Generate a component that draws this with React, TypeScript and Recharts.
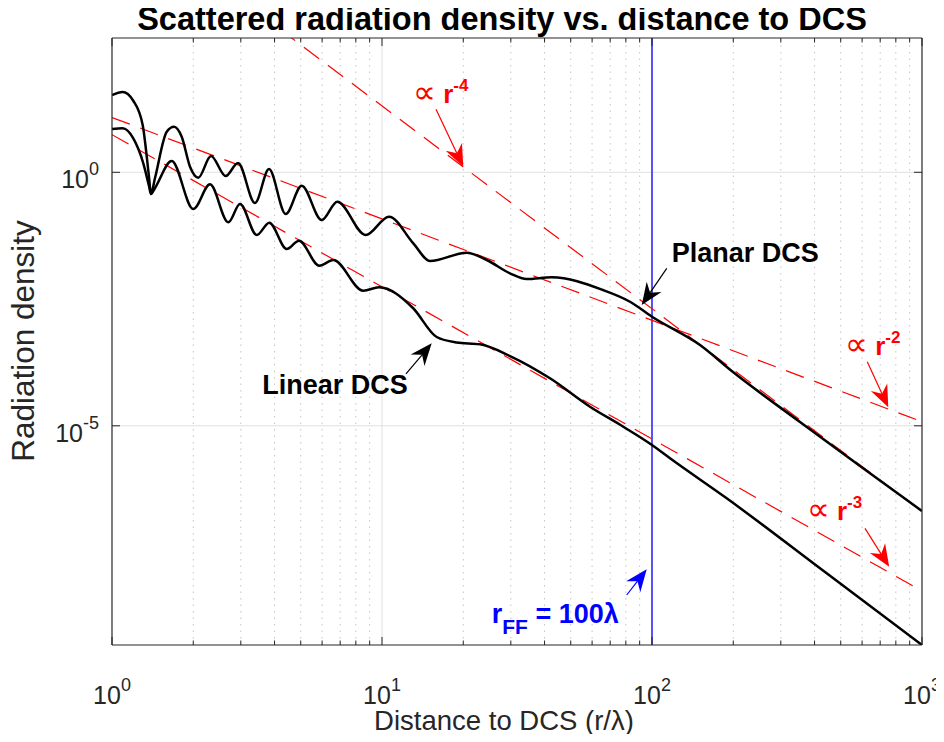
import React from "react";
import { LineChart, Line, XAxis, YAxis, ReferenceLine, ReferenceDot } from "recharts";

const FONT = '"Liberation Sans", Arial, Helvetica, sans-serif';
const AXIS = "#262626";
const RED = "#ff0000";
const BLUE = "#0000ff";

// Planar DCS (upper black curve)
const planarR = [1, 1.095, 1.199, 1.299, 1.371, 1.394, 1.443, 1.595, 1.697, 1.812, 1.945, 2.087, 2.326, 2.637, 2.929, 3.385, 3.815, 4.399, 5.042, 5.979, 6.831, 8.7, 10.61, 13.06, 15.06, 20.59, 24.42, 29.79, 34.36, 42.51, 65.84, 82.9, 100, 150.6, 199.5, 353.3, 589.3, 1000];
const planarV = [33.5, 38.4, 25.8, 8.57, 0.808, 0.373, 0.772, 6.32, 7.93, 5.04, 1.29, 0.782, 2.1, 0.845, 1.525, 0.248, 1.162, 0.1505, 0.544, 0.1146, 0.263, 0.058, 0.133, 0.0398, 0.0178, 0.02596, 0.01863, 0.01018, 0.00786, 0.00849, 0.00477, 0.0028, 0.001419, 3.924e-4, 1.151e-4, 1.189e-5, 1.611e-6, 2.087e-7];

// Linear DCS (lower black curve)
const linearR = [1, 1.095, 1.199, 1.306, 1.371, 1.394, 1.443, 1.664, 2.0, 2.307, 2.696, 2.979, 3.436, 3.824, 4.436, 4.927, 5.858, 6.602, 8.524, 9.748, 13.02, 15.94, 18.91, 23.07, 29.79, 41.9, 58.93, 78.3, 100, 116.6, 189.1, 443.6, 1000];
const linearV = [7.14, 7.38, 4.68, 1.505, 0.537, 0.373, 0.49, 1.671, 0.1888, 0.58, 0.1032, 0.237, 0.058, 0.1014, 0.0307, 0.04476, 0.01438, 0.01863, 0.00462, 0.00539, 0.002106, 5.64e-4, 4.395e-4, 4.05e-4, 2.38e-4, 8.65e-5, 2.38e-5, 9.6e-6, 4.18e-6, 2.286e-6, 3.715e-7, 1.232e-8, 4.75e-10];

// power-law guide lines
const fitR = [1, 1000];
const fitR2 = [12.05, 1.205e-5];
const fitR3 = [5.52, 5.52e-9];
const fitR4 = [2.04e5, 2.04e-7];

const majorX = [1, 10, 100, 1000];
const minorX = [2, 3, 4, 5, 6, 7, 8, 9, 20, 30, 40, 50, 60, 70, 80, 90, 200, 300, 400, 500, 600, 700, 800, 900];
const yTicks = [1e-5, 1];
const xDomain = [1, 1000];
const yDomain = [4.75e-10, 445.6];

// annotation arrows: [tail r, tail v, tip r, tip v]
const arrowsRed = [
  [15.85, 17.48, 20.0, 1.29],
  [627, 1.837e-4, 750, 2.32e-5],
  [615, 9.5e-8, 756, 1.66e-8],
];
const arrowsBlack = [
  [113.4, 0.01278, 91.6, 2.41e-3],
  [12.27, 1.052e-4, 15.28, 4.24e-4],
];
const arrowsBlue = [[80.6, 4.6e-9, 95.6, 1.477e-8]];

// text anchors [r, v, exponent]
const powerLabels = [
  [13.02, 22.96, -4],
  [518.6, 2.49e-4, -2],
  [374.1, 1.387e-7, -3],
];
const planarLabel = [118.3, 0.01725];
const linearLabel = [3.603, 4.24e-5];
const rffLabel = [25.49, 1.307e-9];

const zip = (r: number[], v: number[]) => r.map((x, i) => ({ r: x, v: v[i] }));
const planarData = zip(planarR, planarV);
const linearData = zip(linearR, linearV);
const fit2Data = zip(fitR, fitR2);
const fit3Data = zip(fitR, fitR3);
const fit4Data = zip(fitR, fitR4);

const exp10 = (v: number) => Math.round(Math.log10(v));

const XTickBottom = (p: any) => {
  const { x, y, payload } = p;
  const major = majorX.includes(payload.value);
  return (
    <g>
      <line x1={x} x2={x} y1={y} y2={y - (major ? 8 : 4.5)} stroke={AXIS} strokeWidth={1} />
      {major && (
        <text x={x} y={y + 59} textAnchor="middle" fontSize={25} fill={AXIS} fontFamily={FONT}>
          10<tspan dy={-13} fontSize={18}>{exp10(payload.value)}</tspan>
        </text>
      )}
    </g>
  );
};

const XTickTop = (p: any) => {
  const { x, y, payload } = p;
  const major = majorX.includes(payload.value);
  return <line x1={x} x2={x} y1={y} y2={y + (major ? 8 : 4.5)} stroke={AXIS} strokeWidth={1} />;
};

const YTickLeft = (p: any) => {
  const { x, y, payload } = p;
  return (
    <g>
      <line x1={x} x2={x + 8} y1={y} y2={y} stroke={AXIS} strokeWidth={1} />
      <text x={x - 13} y={y + 16} textAnchor="end" fontSize={25} fill={AXIS} fontFamily={FONT}>
        10<tspan dy={-13} fontSize={18}>{exp10(payload.value)}</tspan>
      </text>
    </g>
  );
};

const YTickRight = (p: any) => {
  const { x, y } = p;
  return <line x1={x} x2={x - 8} y1={y} y2={y} stroke={AXIS} strokeWidth={1} />;
};

const arrowShape = (color: string) => (p: any) => {
  const { x1, y1, x2, y2 } = p;
  const dx = x2 - x1;
  const dy = y2 - y1;
  const len = Math.hypot(dx, dy) || 1;
  const ux = dx / len;
  const uy = dy / len;
  const nx = -uy;
  const ny = ux;
  const L = 22;
  const W = 9;
  const N = 15;
  const bx = x2 - ux * L;
  const by = y2 - uy * L;
  const mx = x2 - ux * N;
  const my = y2 - uy * N;
  const pts = `${x2},${y2} ${bx + nx * W},${by + ny * W} ${mx},${my} ${bx - nx * W},${by - ny * W}`;
  return (
    <g>
      <line x1={x1} y1={y1} x2={mx} y2={my} stroke={color} strokeWidth={1.2} />
      <polygon points={pts} fill={color} />
    </g>
  );
};

const powerShape = (n: number) => (p: any) => (
  <text x={p.cx} y={p.cy} fill={RED} fontSize={26} fontFamily={FONT}>
    <tspan fontSize={32}>∝</tspan>
    <tspan fontWeight="bold"> r</tspan>
    <tspan fontWeight="bold" fontSize={17} dy={-12}>{n}</tspan>
  </text>
);

const boldText = (t: string) => (p: any) => (
  <text x={p.cx} y={p.cy} fill="#000" fontSize={27} fontWeight="bold" fontFamily={FONT}>
    {t}
  </text>
);

const rffShape = (p: any) => (
  <text x={p.cx} y={p.cy} fill={BLUE} fontSize={27} fontWeight="bold" fontFamily={FONT}>
    <tspan>r</tspan>
    <tspan fontSize={21} dy={11}>FF</tspan>
    <tspan dy={-11}> = 100λ</tspan>
  </text>
);

export default function App() {
  const ax = { xAxisId: "b", yAxisId: "l" };
  return (
    <div style={{ position: "relative", width: 944, height: 742, margin: -8, fontFamily: FONT }}>
      <LineChart width={944} height={742} margin={{ top: 0, right: 0, bottom: 0, left: 0 }}>
        <XAxis xAxisId="b" orientation="bottom" type="number" dataKey="r" scale="log" domain={xDomain}
          allowDataOverflow ticks={[...majorX, ...minorX]} interval={0} tickLine={false} tickSize={0}
          tickMargin={0} tick={(p: any) => <XTickBottom {...p} />} axisLine={{ stroke: AXIS, strokeWidth: 1.2 }} height={97} />
        <XAxis xAxisId="t" orientation="top" type="number" dataKey="r" scale="log" domain={xDomain}
          allowDataOverflow ticks={[...majorX, ...minorX]} interval={0} tickLine={false} tickSize={0}
          tickMargin={0} tick={(p: any) => <XTickTop {...p} />} axisLine={{ stroke: AXIS, strokeWidth: 1.2 }} height={38} />
        <YAxis yAxisId="l" orientation="left" type="number" scale="log" domain={yDomain} allowDataOverflow
          ticks={yTicks} interval={0} tickLine={false} tickSize={0} tickMargin={0}
          tick={(p: any) => <YTickLeft {...p} />} axisLine={{ stroke: AXIS, strokeWidth: 1.2 }} width={112} />
        <YAxis yAxisId="r" orientation="right" type="number" scale="log" domain={yDomain} allowDataOverflow
          ticks={yTicks} interval={0} tickLine={false} tickSize={0} tickMargin={0}
          tick={(p: any) => <YTickRight {...p} />} axisLine={{ stroke: AXIS, strokeWidth: 1.2 }} width={22} />

        {minorX.map((v) => (
          <ReferenceLine key={"mx" + v} {...ax} x={v} stroke="#c4c4c4" strokeDasharray="1.5 5" strokeWidth={1} />
        ))}
        {[10, 100].map((v) => (
          <ReferenceLine key={"Mx" + v} {...ax} x={v} stroke="#e0e0e0" strokeWidth={1} />
        ))}
        {yTicks.map((v) => (
          <ReferenceLine key={"My" + v} {...ax} y={v} stroke="#e0e0e0" strokeWidth={1} />
        ))}
        <ReferenceLine {...ax} x={100} stroke={BLUE} strokeWidth={1.3} />

        <Line {...ax} data={fit2Data} dataKey="v" type="linear" stroke={RED} strokeWidth={1.2} strokeDasharray="19 11" dot={false} isAnimationActive={false} />
        <Line {...ax} data={fit3Data} dataKey="v" type="linear" stroke={RED} strokeWidth={1.2} strokeDasharray="19 11" dot={false} isAnimationActive={false} />
        <Line {...ax} data={fit4Data} dataKey="v" type="linear" stroke={RED} strokeWidth={1.2} strokeDasharray="19 11" dot={false} isAnimationActive={false} />
        <Line {...ax} data={planarData} dataKey="v" type="monotone" stroke="#000" strokeWidth={2.5} dot={false} isAnimationActive={false} />
        <Line {...ax} data={linearData} dataKey="v" type="monotone" stroke="#000" strokeWidth={2.5} dot={false} isAnimationActive={false} />

        {arrowsRed.map((a, i) => (
          <ReferenceLine key={"ar" + i} {...ax} segment={[{ x: a[0], y: a[1] }, { x: a[2], y: a[3] }]} shape={arrowShape(RED)} />
        ))}
        {arrowsBlack.map((a, i) => (
          <ReferenceLine key={"ab" + i} {...ax} segment={[{ x: a[0], y: a[1] }, { x: a[2], y: a[3] }]} shape={arrowShape("#000")} />
        ))}
        {arrowsBlue.map((a, i) => (
          <ReferenceLine key={"au" + i} {...ax} segment={[{ x: a[0], y: a[1] }, { x: a[2], y: a[3] }]} shape={arrowShape(BLUE)} />
        ))}

        {powerLabels.map((l, i) => (
          <ReferenceDot key={"pl" + i} {...ax} x={l[0]} y={l[1]} r={0} shape={powerShape(l[2])} />
        ))}
        <ReferenceDot {...ax} x={planarLabel[0]} y={planarLabel[1]} r={0} shape={boldText("Planar DCS")} />
        <ReferenceDot {...ax} x={linearLabel[0]} y={linearLabel[1]} r={0} shape={boldText("Linear DCS")} />
        <ReferenceDot {...ax} x={rffLabel[0]} y={rffLabel[1]} r={0} shape={rffShape} />
      </LineChart>
      <svg width={944} height={742} style={{ position: "absolute", left: 0, top: 0, pointerEvents: "none" }}>
        <text x={502} y={30} textAnchor="middle" fontSize={32.5} fontWeight="bold" fontFamily={FONT} fill="#000">
          Scattered radiation density vs. distance to DCS
        </text>
        <text x={504} y={730} textAnchor="middle" fontSize={27.5} fontFamily={FONT} fill={AXIS}>
          Distance to DCS (r/λ)
        </text>
        <text x={0} y={0} transform="translate(34,341) rotate(-90)" textAnchor="middle" fontSize={31.5} fontFamily={FONT} fill={AXIS}>
          Radiation density
        </text>
      </svg>
    </div>
  );
}
